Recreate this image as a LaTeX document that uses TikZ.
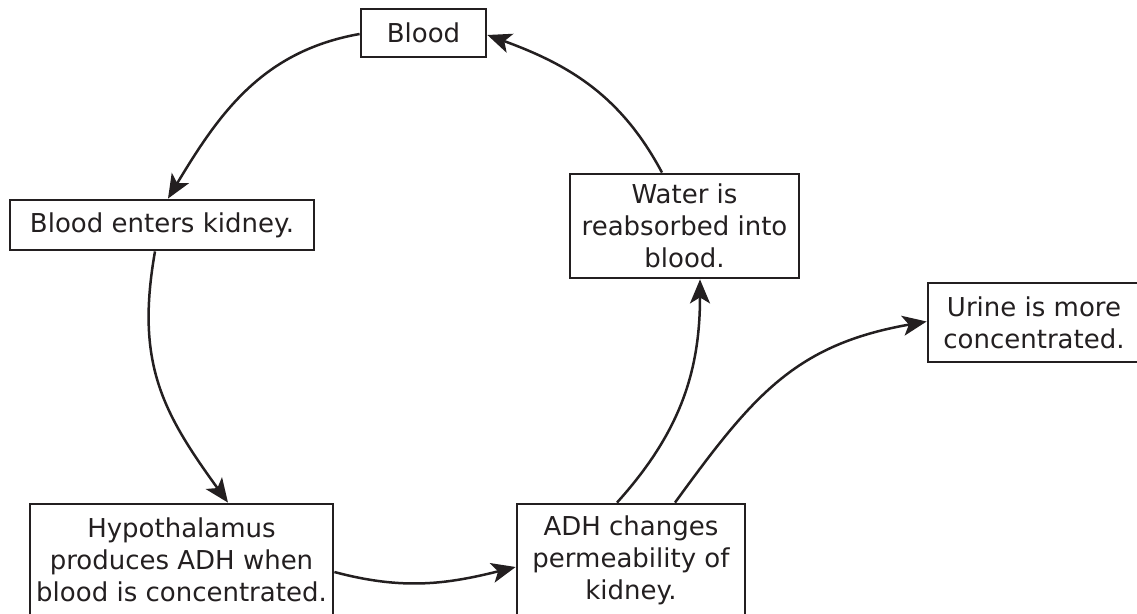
\documentclass[tikz,border=0pt]{standalone}
\usepackage{fontspec}
\setmainfont{DejaVu Sans}
\usetikzlibrary{arrows.meta}
\definecolor{ink}{HTML}{231F20}
\begin{document}
\begin{tikzpicture}[x=1pt,y=1pt,
  box/.style={draw=ink, line width=2.8pt, inner sep=0pt, align=center, text=ink,
    font=\fontsize{26}{32}\selectfont},
  link/.style={draw=ink, line width=2.5pt,
    -{Stealth[length=24pt,width=20pt,inset=6pt]}}]
\clip (0,0) rectangle (1137,-613);
\useasboundingbox (0,0) rectangle (1137,-613);
\node[box, minimum width=125pt, minimum height=48pt] (blood) at (423.5,-33) {Blood};
\node[box, minimum width=304pt, minimum height=50pt] (kidney) at (162,-225) {Blood enters kidney.};
\node[box, minimum width=229pt, minimum height=104pt] (water) at (684.5,-226) {Water is\\reabsorbed into\\blood.};
\node[box, minimum width=212pt, minimum height=79pt] (urine) at (1034,-322.5) {Urine is more\\concentrated.};
\node[box, minimum width=303pt, minimum height=112pt] (hypo) at (181.5,-560) {Hypothalamus\\produces ADH when\\blood is concentrated.};
\node[box, minimum width=228pt, minimum height=112pt] (adh) at (631,-560) {ADH changes\\permeability of\\kidney.};

\draw[link] ([yshift=-1pt]blood.west) to[out=190,in=59] ([xshift=6pt]kidney.north);
\draw[link] ([xshift=-7pt]kidney.south) to[out=260,in=126,looseness=1.1] ([xshift=46.5pt]hypo.north);
\draw[link] ([yshift=-12pt]hypo.east) to[out=-15,in=194] ([yshift=-7pt]adh.west);
\draw[link] ([xshift=-14pt]adh.north) to[out=48,in=270] ([xshift=15.5pt]water.south);
\draw[link] ([xshift=44pt]adh.north) to[out=54,in=190,looseness=1.1] ([yshift=1pt]urine.west);
\draw[link] ([xshift=-22.5pt]water.north) to[out=118,in=-20] ([yshift=-2pt]blood.east);
\end{tikzpicture}
\end{document}
